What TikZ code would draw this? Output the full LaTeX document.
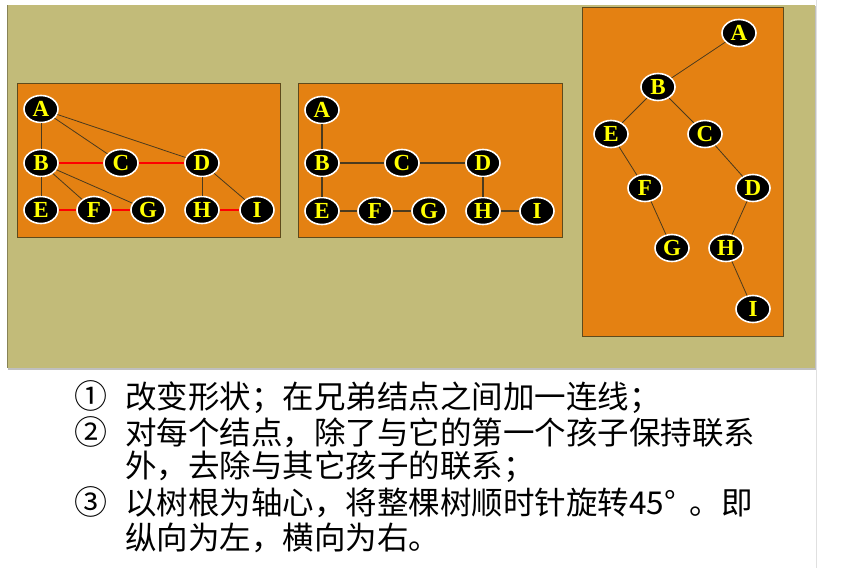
\documentclass[tikz,border=0pt]{standalone}
\usepackage{fontspec}
\usepackage{tikz}
\usetikzlibrary{shapes.geometric}
\newfontfamily\cjk{Noto Sans CJK SC}
\newfontfamily\letterfont{Liberation Serif}
\definecolor{khaki}{HTML}{C2BB79}
\definecolor{panelorange}{HTML}{E48112}
\definecolor{panelrim}{HTML}{5E4A1C}
\definecolor{edgebrown}{HTML}{4A3A1E}
\definecolor{letteryellow}{HTML}{FFFF00}

\tikzset{
    tnode/.style={ellipse, draw=white, line width=1.6pt, fill=black,
        minimum width=34pt, minimum height=27pt, inner sep=0pt,
        text=letteryellow, font=\letterfont\bfseries\fontsize{23}{23}\selectfont},
    panel/.style={fill=panelorange, draw=panelrim, line width=1pt},
    link/.style={edgebrown, line width=0.8pt},
    sibling/.style={red, line width=2.8pt},
    ruletext/.style={anchor=base west, inner sep=0pt,
        font=\cjk\fontsize{31.5}{31.5}\selectfont},
    rulenum/.style={anchor=base, inner sep=0pt,
        font=\cjk\fontsize{33}{33}\selectfont}
}

\begin{document}
\begin{tikzpicture}[x=1pt, y=-1pt]
    \useasboundingbox (0,0) rectangle (846,568);
    \fill[white] (0,0) rectangle (846,568);
    \draw[black!12, line width=1pt] (816.5,0) -- (816.5,568);
    % background
    \fill[black!25] (8,6) rectangle (816,370);
    \fill[khaki] (7,5) rectangle (815,368);
    \draw[khaki!70!black, line width=1.2pt] (7.6,5) -- (7.6,368);
    % panels
    \draw[panel] (17,83) rectangle (280,237);
    \draw[panel] (298,83) rectangle (562,237);
    \draw[panel] (582,7) rectangle (783,336);

    % step 1: siblings joined
    \draw[every node/.style={tnode}]
        (41,109) node (A1){A}
        (41,163) node (B1){B}
        (121,163) node (C1){C}
        (202,163) node (D1){D}
        (41,210) node (E1){E}
        (94,210) node (F1){F}
        (148,210) node (G1){G}
        (202,210) node (H1){H}
        (257,210) node (I1){I};
    \begin{scope}[link]
        \draw (A1) to (B1);
        \draw (A1) to (C1);
        \draw (A1) to (D1);
        \draw (B1) to (E1);
        \draw (B1) to (F1);
        \draw (B1) to (G1);
        \draw (D1) to (H1);
        \draw (D1) to (I1);
    \end{scope}
    \begin{scope}[sibling]
        \draw (B1) to (C1);
        \draw (C1) to (D1);
        \draw (E1) to (F1);
        \draw (F1) to (G1);
        \draw (H1) to (I1);
    \end{scope}

    % step 2: first child kept
    \draw[every node/.style={tnode}]
        (322,110) node (A2){A}
        (322,163) node (B2){B}
        (402,163) node (C2){C}
        (483,163) node (D2){D}
        (322,211) node (E2){E}
        (375,211) node (F2){F}
        (429,211) node (G2){G}
        (483,211) node (H2){H}
        (537,211) node (I2){I};
    \begin{scope}[link, line width=1.1pt]
        \draw (A2) to (B2);
        \draw (B2) to (C2);
        \draw (C2) to (D2);
        \draw (B2) to (E2);
        \draw (E2) to (F2);
        \draw (F2) to (G2);
        \draw (D2) to (H2);
        \draw (H2) to (I2);
    \end{scope}

    % step 3: turned by 45 degrees
    \draw[every node/.style={tnode}]
        (739,33) node (A3){A}
        (658,87) node (B3){B}
        (611,134) node (E3){E}
        (705,134) node (C3){C}
        (645,188) node (F3){F}
        (753,188) node (D3){D}
        (672,248) node (G3){G}
        (726,248) node (H3){H}
        (753,309) node (I3){I};
    \begin{scope}[link]
        \draw (A3) to (B3);
        \draw (B3) to (E3);
        \draw (B3) to (C3);
        \draw (E3) to (F3);
        \draw (F3) to (G3);
        \draw (C3) to (D3);
        \draw (D3) to (H3);
        \draw (H3) to (I3);
    \end{scope}

    % rules
    \node[rulenum] (n1) at (91,408) {①};
    \node[ruletext] (r1) at (125,408) {改变形状；在兄弟结点之间加一连线；};
    \node[rulenum] (n2) at (91,444) {②};
    \node[ruletext] (r2) at (125,444) {对每个结点，除了与它的第一个孩子保持联系};
    \node[ruletext] (r2b) at (125,477) {外，去除与其它孩子的联系；};
    \node[rulenum] (n3) at (91,514) {③};
    \node[ruletext] (r3) at (125,514) {以树根为轴心，将整棵树顺时针旋转45°\hspace{0.45em}。即};
    \node[ruletext] (r3b) at (125,549) {纵向为左，横向为右。};
\end{tikzpicture}
\end{document}
